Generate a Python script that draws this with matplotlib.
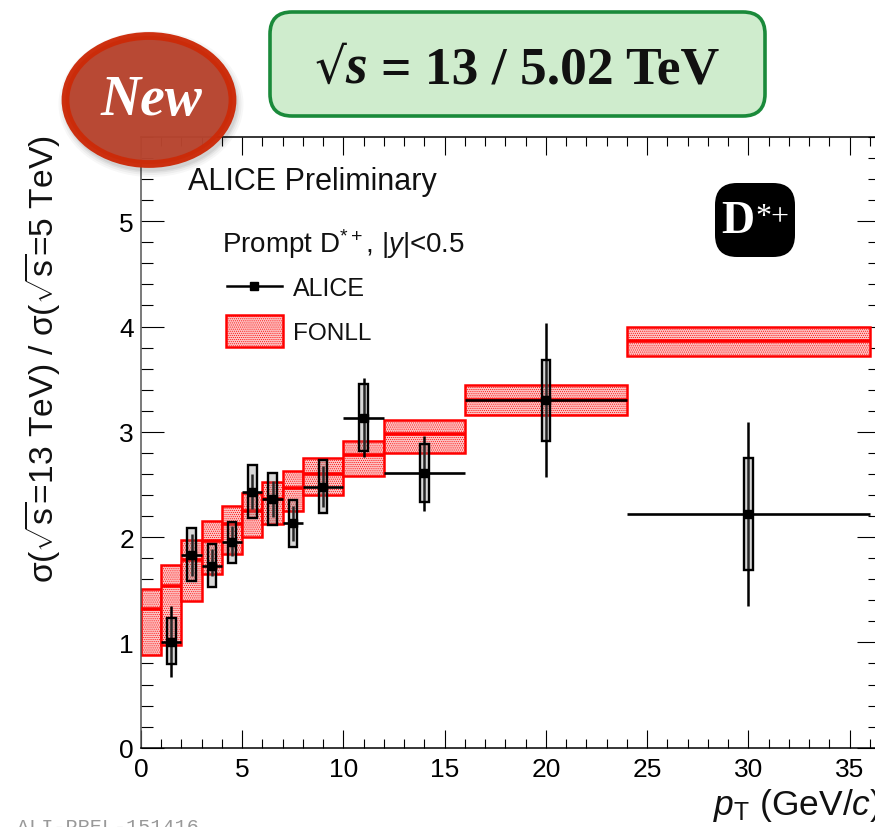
import matplotlib
matplotlib.use("Agg")
import matplotlib.pyplot as plt
from matplotlib.patches import FancyBboxPatch, Ellipse
from matplotlib.ticker import MultipleLocator

plt.rcParams["font.family"] = ["Liberation Sans", "DejaVu Sans"]
plt.rcParams["mathtext.fontset"] = "custom"
plt.rcParams["mathtext.rm"] = "Liberation Sans"
plt.rcParams["mathtext.it"] = "Liberation Sans:italic"
plt.rcParams["mathtext.bf"] = "Liberation Sans:bold"
plt.rcParams["hatch.linewidth"] = 0.45

# FONLL bins
bin_lo = [0, 1, 2, 3, 4, 5, 6, 7, 8, 10, 12, 16, 24]
bin_hi = [1, 2, 3, 4, 5, 6, 7, 8, 10, 12, 16, 24, 36]
fonll_c = [1.317, 1.539, 1.782, 1.966, 2.124, 2.25, 2.36, 2.47, 2.596, 2.78, 2.976, 3.305, 3.862]
fonll_up = [1.507, 1.735, 1.972, 2.15, 2.298, 2.42, 2.526, 2.625, 2.748, 2.913, 3.109, 3.447, 4.0]
fonll_dn = [0.883, 0.978, 1.39, 1.65, 1.84, 2.0, 2.124, 2.245, 2.397, 2.583, 2.799, 3.162, 3.717]

# ALICE points
pt_lo = [1, 2, 3, 4, 5, 6, 7, 8, 10, 12, 16, 24]
pt_hi = [2, 3, 4, 5, 6, 7, 8, 10, 12, 16, 24, 36]
pt = [1.5, 2.5, 3.5, 4.5, 5.5, 6.5, 7.5, 9, 11, 14, 20, 30]
ratio = [1.007, 1.833, 1.728, 1.957, 2.428, 2.359, 2.131, 2.476, 3.134, 2.609, 3.305, 2.219]
stat_up = [1.343, 2.03, 1.887, 2.108, 2.6, 2.536, 2.298, 2.678, 3.508, 2.963, 4.03, 3.09]
stat_dn = [0.668, 1.63, 1.634, 1.823, 2.267, 2.188, 1.966, 2.283, 2.758, 2.251, 2.574, 1.349]
sys_up = [1.229, 2.083, 1.934, 2.14, 2.687, 2.606, 2.352, 2.729, 3.454, 2.884, 3.685, 2.751]
sys_dn = [0.795, 1.58, 1.526, 1.754, 2.178, 2.115, 1.906, 2.226, 2.818, 2.33, 2.916, 1.688]

W, H = 875, 828
RED = "#ff0000"
PINK = "#fcc4c4"

fig = plt.figure(figsize=(W / 100, H / 100), dpi=100)
fig.patch.set_facecolor("white")

ax = fig.add_axes([141 / W, (H - 748.7) / H, (880 - 141) / W, (748.7 - 138) / H])
ax.set_xlim(0, 36.5)
ax.set_ylim(0, 5.8)

ax.xaxis.set_major_locator(MultipleLocator(5))
ax.xaxis.set_minor_locator(MultipleLocator(1))
ax.yaxis.set_major_locator(MultipleLocator(1))
ax.yaxis.set_minor_locator(MultipleLocator(0.2))
ax.tick_params(which="major", axis="x", direction="in", top=True, length=13, width=0.8, labelsize=19, pad=7)
ax.tick_params(which="minor", axis="x", direction="in", top=True, length=6.5, width=0.8)
ax.tick_params(which="major", axis="y", direction="in", right=True, length=16.5, width=0.8, labelsize=19, pad=5)
ax.tick_params(which="minor", axis="y", direction="in", right=True, length=8.5, width=0.8)
for s in ax.spines.values():
    s.set_linewidth(1.1)
ax.spines["left"].set_color("#555555")

# FONLL band
for lo, hi, c, up, dn in zip(bin_lo, bin_hi, fonll_c, fonll_up, fonll_dn):
    ax.bar((lo + hi) / 2, up - dn, hi - lo, dn, facecolor=PINK, edgecolor=RED, linewidth=1.8,
           hatch="........", zorder=2)
    ax.plot([lo, hi], [c, c], color=RED, lw=2.6, solid_capstyle="butt", zorder=3)

# ALICE data
for i in range(len(pt)):
    ax.plot([pt_lo[i], pt_hi[i]], [ratio[i], ratio[i]], color="black", lw=1.9, solid_capstyle="butt", zorder=5)
    ax.plot([pt[i], pt[i]], [stat_dn[i], stat_up[i]], color="black", lw=1.8, solid_capstyle="butt", zorder=5)
    ax.bar(pt[i], sys_up[i] - sys_dn[i], 0.42, sys_dn[i], facecolor=(0.5, 0.5, 0.5, 0.3),
           edgecolor="black", linewidth=1.7, zorder=6)
ax.plot(pt, ratio, ls="none", marker="s", ms=5.5, color="black", zorder=7)

# overlay in pixel coordinates
ov = fig.add_axes([0, 0, 1, 1], zorder=10)
ov.set_xlim(0, W)
ov.set_ylim(H, 0)
ov.axis("off")
ov.patch.set_alpha(0)

# axis titles
ov.text(43, 359, r"σ($\sqrt{\mathrm{s}}$=13 TeV) / σ($\sqrt{\mathrm{s}}$=5 TeV)", rotation=90, ha="center", va="center",
        fontsize=24.2, color="#111111")
ov.text(713, 815, r"$\mathit{p}_{\mathrm{T}}$ (GeV/$\mathit{c}$)", ha="left", va="baseline", fontsize=25.5, color="#111111", clip_on=False)

# labels and legend
ov.text(188, 182, "ALICE Preliminary", ha="left", va="center", fontsize=22, color="#111111")
ov.text(222, 244, r"Prompt D$^{*+}$, |$\mathit{y}$|<0.5", ha="left", va="center", fontsize=20, color="#111111")
ov.plot([227, 282], [287, 287], color="black", lw=1.8)
ov.plot([254], [287], marker="s", ms=5.5, color="black")
ov.text(293, 289, "ALICE", ha="left", va="center", fontsize=18, color="#111111")
ov.bar(254.5, 32, 57, 316, facecolor=PINK, edgecolor=RED, linewidth=1.8, hatch="........")
ov.text(293, 334, "FONLL", ha="left", va="center", fontsize=17.6, color="#111111")

# green energy box
ov.add_patch(FancyBboxPatch((270, 13), 495, 104, boxstyle="round,pad=0,rounding_size=22",
                            facecolor="#cfeccd", edgecolor="#1a8a3a", linewidth=2.6, mutation_aspect=1))
ov.text(315, 83, "√", ha="left", va="baseline", fontsize=36, family="DejaVu Serif", color="#111111")
ov.text(345, 83, "s", ha="left", va="baseline", fontsize=40, family="Liberation Serif", style="italic", weight="bold", color="#111111")
ov.text(381, 83, "= 13 / 5.02 TeV", ha="left", va="baseline", fontsize=38.5, family="Liberation Serif", weight="bold", color="#111111")

# "New" seal with soft shadow
for grow, a in [(12, 0.03), (8, 0.04), (4, 0.05), (1, 0.06)]:
    ov.add_patch(Ellipse((151, 105), 173 + grow, 134 + grow, facecolor="black", edgecolor="none", alpha=a))
ov.add_patch(Ellipse((149, 101), 167, 128, facecolor="#b8452f", edgecolor="#cc2a08", linewidth=5.6, alpha=0.97))
ov.text(151, 101, "New", ha="center", va="center", fontsize=40, family="Liberation Serif", style="italic",
        weight="bold", color="white")

# D*+ badge
ov.add_patch(FancyBboxPatch((731, 200), 48, 42, boxstyle="round,pad=16,rounding_size=22",
                            facecolor="black", edgecolor="none"))
ov.text(721, 222, "D", ha="left", va="center", fontsize=33, family="Liberation Serif", weight="bold", color="white")
ov.text(755, 217, "*+", ha="left", va="center", fontsize=23, family="Liberation Serif", color="white")

# cut-off preliminary id
ov.text(17, 833, "ALI-PREL-151416", ha="left", va="baseline", fontsize=14.5, family="Liberation Mono", color="#999999",
        clip_on=False)

fig.savefig("out.png", dpi=100, facecolor="white")
